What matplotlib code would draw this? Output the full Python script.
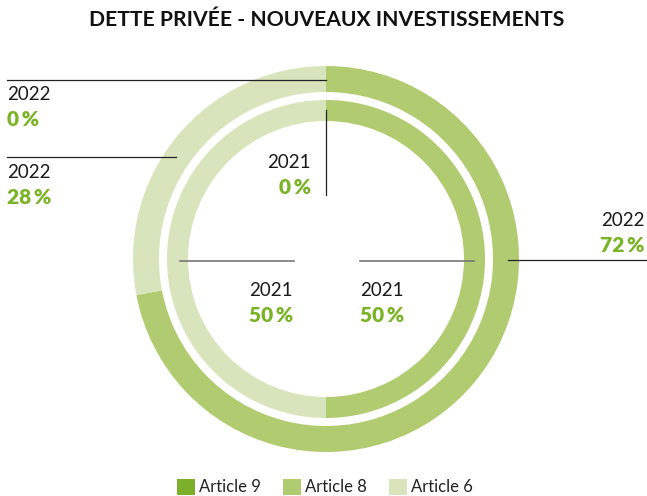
import matplotlib
matplotlib.use("Agg")
import matplotlib.pyplot as plt
from matplotlib.patches import Patch

categories = ["Article 9", "Article 8", "Article 6"]
values_2022 = [0, 72, 28]
values_2021 = [0, 50, 50]
colors = ["#7cb02a", "#b1cb70", "#d8e5bc"]
green_txt = "#7ab326"
title = "DETTE PRIVÉE - NOUVEAUX INVESTISSEMENTS"

W, H = 647, 496
fig = plt.figure(figsize=(W / 100, H / 100), dpi=100)
ax = fig.add_axes([0, 0, 1, 1])
FONT = "Lato"

def Y(py):
    return H - py

cx, cy = 326, Y(259)
ax.pie(values_2022, colors=colors, startangle=90, counterclock=False,
       radius=193, center=(cx, cy), wedgeprops=dict(width=26, linewidth=0))
ax.pie(values_2021, colors=colors, startangle=90, counterclock=False,
       radius=159, center=(cx, cy), wedgeprops=dict(width=21, linewidth=0))
ax.set_xlim(0, W)
ax.set_ylim(0, H)
ax.set_aspect("equal")
ax.axis("off")

lc = "#222222"
gc = "#777777"
# leader lines
ax.plot([7, 326], [Y(79.5), Y(79.5)], color=lc, lw=0.9)
ax.plot([7, 176], [Y(157), Y(157)], color=lc, lw=0.9)
ax.plot([326, 326], [Y(110), Y(195)], color=lc, lw=0.9)
ax.plot([180, 294], [Y(260.5), Y(260.5)], color=gc, lw=1.2)
ax.plot([360, 474], [Y(260.5), Y(260.5)], color=gc, lw=1.2)
ax.plot([508, 647], [Y(260), Y(260)], color=lc, lw=0.9)

def lab(x, y, year, val, ha):
    ax.text(x, Y(y), year, ha=ha, va="center", fontsize=13.5, family=FONT,
            fontweight="normal", color="#1a1a1a")
    ax.text(x, Y(y + 25), f"{val}\u2009%", ha=ha, va="center", fontsize=15,
            family=[FONT, "DejaVu Sans"], fontweight="heavy", color=green_txt)

lab(7, 95, "2022", values_2022[0], "left")
lab(7, 172, "2022", values_2022[2], "left")
lab(311, 163, "2021", values_2021[0], "right")
lab(293, 290, "2021", values_2021[2], "right")
lab(360, 290, "2021", values_2021[1], "left")
lab(645, 220, "2022", values_2022[1], "right")

ax.text(327, Y(20), title, ha="center", va="center", fontsize=15.2,
        family=FONT, fontweight="bold", color="#111111")

handles = [Patch(facecolor=c, edgecolor="none") for c in colors]
leg = ax.legend(handles, categories, ncol=3, loc="center",
                bbox_to_anchor=(325 / W, 1 - 487 / H), frameon=False,
                prop=dict(family=FONT, size=12, weight="normal"),
                handlelength=1.1, handleheight=1.1, handletextpad=0.25,
                columnspacing=1.3)
for t in leg.get_texts():
    t.set_color("#222222")

fig.savefig("out.png", dpi=100)
